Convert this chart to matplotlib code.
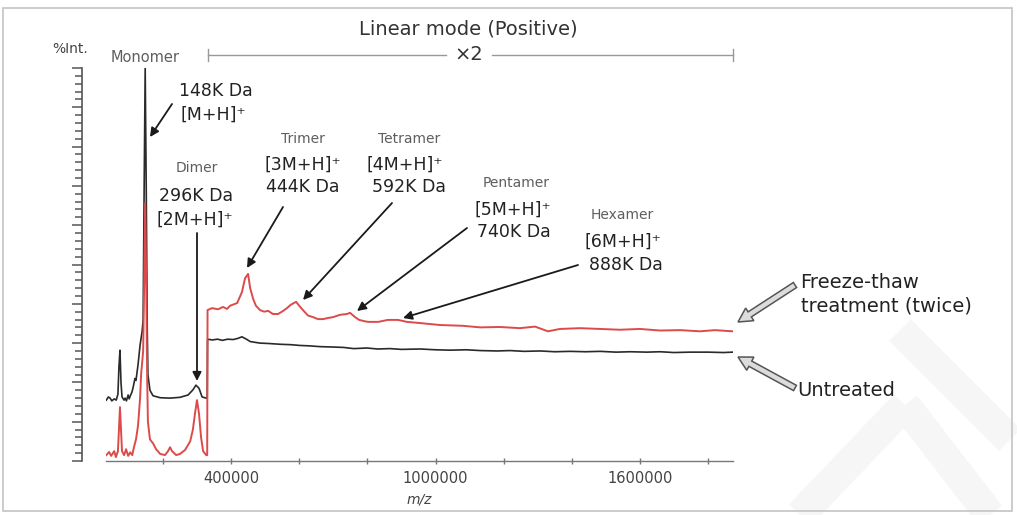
import matplotlib
matplotlib.use("Agg")
import matplotlib.pyplot as plt
from matplotlib.patches import FancyArrow, Rectangle
import numpy as np

plt.rcParams['font.family'] = ['DejaVu Sans']

# ---------------- data (m/z, %Int) ----------------
mz_untreated = [34000, 40000, 45000, 50000, 57000, 63000, 68000, 71000, 74000, 77000,
                80000, 86000, 89000, 93000, 98000, 101000, 104000, 109000, 112000, 118000,
                121000, 124000, 127000, 133000, 139000, 142000, 145000, 148000, 151000, 154000,
                156000, 162000, 171000, 192000, 221000, 250000, 274000, 288000, 297000, 306000,
                315000, 327000, 330000, 331000, 345000, 360000, 375000, 390000, 406000, 420000,
                432000, 445000, 456000, 470000, 485000, 510000, 544000, 575000, 602000, 630000,
                661000, 699000, 730000, 760000, 799000, 830000, 866000, 900000, 955000, 1000000,
                1043000, 1090000, 1131000, 1180000, 1219000, 1260000, 1307000, 1350000, 1395000, 1440000,
                1483000, 1530000, 1571000, 1620000, 1659000, 1700000, 1747000, 1800000, 1845000, 1872000]
int_untreated = [15.5, 16.3, 16.0, 15.3, 15.8, 15.5, 17.0, 24.0, 28.2, 20.0,
                 16.3, 15.5, 16.0, 15.3, 16.8, 15.8, 16.5, 17.5, 18.5, 21.0,
                 20.5, 22.5, 24.5, 29.5, 33.0, 36.0, 70.0, 100.0, 70.0, 34.0,
                 22.0, 18.0, 16.6, 16.1, 16.0, 16.2, 16.8, 18.1, 19.3, 18.5,
                 16.3, 16.0, 16.0, 31.0, 30.8, 31.0, 30.7, 31.0, 30.9, 31.2,
                 31.6, 31.0, 30.4, 30.2, 30.0, 29.9, 29.7, 29.6, 29.4, 29.3,
                 29.1, 29.0, 28.9, 28.6, 28.75, 28.5, 28.6, 28.4, 28.5, 28.3,
                 28.2, 28.3, 28.1, 28.0, 28.1, 27.9, 28.0, 27.8, 27.9, 27.8,
                 27.9, 27.7, 27.8, 27.7, 27.8, 27.6, 27.7, 27.7, 27.6, 27.7]

mz_freeze = [34000, 42000, 48000, 57000, 62000, 68000, 71000, 74000, 77000, 80000,
             86000, 92000, 98000, 104000, 110000, 115000, 121000, 127000, 133000, 136000,
             139000, 142000, 145000, 148000, 151000, 154000, 156000, 162000, 171000, 180000,
             192000, 206000, 215000, 221000, 227000, 239000, 250000, 265000, 280000, 288000,
             294000, 300000, 306000, 312000, 318000, 327000, 330000, 331000, 344000, 362000,
             376000, 388000, 397000, 418000, 432000, 441000, 450000, 456000, 465000, 473000,
             485000, 497000, 509000, 523000, 538000, 553000, 564000, 576000, 591000, 600000,
             611000, 626000, 641000, 655000, 670000, 685000, 699000, 720000, 740000, 749000,
             764000, 776000, 790000, 802000, 832000, 860000, 890000, 916000, 955000, 1013000,
             1081000, 1131000, 1189000, 1248000, 1292000, 1330000, 1365000, 1424000, 1483000, 1541000,
             1600000, 1659000, 1718000, 1776000, 1820000, 1872000]
int_freeze = [1.5, 2.3, 1.3, 2.5, 1.0, 2.5, 8.0, 13.7, 8.0, 2.5,
              1.5, 3.0, 1.3, 2.2, 1.5, 3.5, 5.5, 9.0, 16.0, 22.0,
              24.9, 28.0, 45.0, 65.6, 45.0, 20.0, 10.0, 5.5, 4.5, 3.0,
              1.8, 1.5, 2.5, 3.5, 2.5, 1.5, 1.8, 2.8, 5.0, 8.0,
              12.0, 15.5, 12.0, 6.0, 2.5, 1.5, 1.5, 38.4, 38.9, 38.6,
              39.2, 38.7, 39.5, 40.2, 43.0, 46.5, 47.6, 44.0, 41.2, 39.5,
              38.4, 38.0, 38.2, 37.4, 37.4, 38.2, 38.9, 39.8, 40.5, 39.5,
              38.4, 37.0, 36.6, 36.1, 36.1, 36.4, 36.6, 37.2, 37.4, 37.7,
              36.6, 35.9, 35.6, 35.4, 35.4, 35.9, 35.9, 35.4, 35.1, 34.6,
              34.4, 34.0, 34.1, 33.8, 34.2, 33.0, 33.6, 33.8, 33.6, 33.4,
              33.6, 33.2, 33.3, 33.0, 33.3, 33.0]

xtick_values = [200000, 400000, 600000, 800000, 1000000, 1200000, 1400000, 1600000, 1800000]
xtick_labels = ['', '400000', '', '', '1000000', '', '', '1600000', '']

# ---------------- figure ----------------
W, H = 1017, 515
fig = plt.figure(figsize=(W / 100, H / 100), dpi=100)
fig.patch.set_facecolor('white')

def fx(px):
    return px / W

def fy(py):
    return 1 - py / H

# main axes: x 106..733 px, y 68..461 px
ax = fig.add_axes([fx(106), fy(461), fx(733) - fx(106), fy(68) - fy(461)], zorder=2)
ax.set_facecolor('none')
ax.plot(mz_untreated, int_untreated, color='#2a2a2a', lw=1.2, zorder=3)
ax.plot(mz_freeze, int_freeze, color='#dd4a4a', lw=1.4, zorder=4)
ax.set_xlim(33000, 1873000)
ax.set_ylim(0, 100)

for s in ['top', 'right']:
    ax.spines[s].set_visible(False)
ax.spines['left'].set_position(('outward', 17))
ax.spines['left'].set_color('#555555')
ax.spines['left'].set_linewidth(1.2)
ax.spines['bottom'].set_color('#777777')
ax.spines['bottom'].set_linewidth(1.0)

ax.set_yticks(np.arange(0, 101, 10))
ax.set_yticks(np.arange(0, 101, 2), minor=True)
ax.set_yticklabels([])
ax.tick_params(axis='y', which='major', length=7, width=1.1, color='#555555', direction='out')
ax.tick_params(axis='y', which='minor', length=5, width=1.1, color='#555555', direction='out')

ax.set_xticks(xtick_values)
ax.set_xticklabels(xtick_labels)
ax.tick_params(axis='x', which='major', length=4, width=1, color='#777777', direction='inout',
               pad=5, labelsize=10.5, labelcolor='#444444')
ax.set_xlabel('m/z', style='italic', fontsize=10, color='#444444', labelpad=5)

# ---------------- overlay in image pixel coordinates ----------------
bg = fig.add_axes([0, 0, 1, 1], zorder=0)
bg.set_xlim(0, W)
bg.set_ylim(H, 0)
bg.axis('off')
# faint watermark
for (x0, y0, x1, y1) in [(900, 330, 1010, 440), (800, 515, 905, 405), (905, 405, 990, 515)]:
    bg.plot([x0, x1], [y0, y1], color='#f6f6f6', lw=22, solid_capstyle='butt')

ov = fig.add_axes([0, 0, 1, 1], zorder=5)
ov.set_xlim(0, W)
ov.set_ylim(H, 0)
ov.axis('off')
ov.patch.set_alpha(0)

# frame
ov.add_patch(Rectangle((3, 8), 1009, 503, fill=False, ec='#c4c4c4', lw=1.2))

# header
ov.text(468, 29, 'Linear mode (Positive)', ha='center', va='center', fontsize=14, color='#333333')
ov.text(469, 55, '×2', ha='center', va='center', fontsize=14, color='#333333')
ov.plot([208, 446], [55, 55], color='#999999', lw=1)
ov.plot([492, 733], [55, 55], color='#999999', lw=1)
ov.plot([208, 208], [49, 61], color='#999999', lw=1)
ov.plot([733, 733], [49, 61], color='#999999', lw=1)

ov.text(70, 49, '%Int.', ha='center', va='center', fontsize=10, color='#444444')

gray = '#5e5e5e'
dark = '#222222'
ov.text(145, 58, 'Monomer', ha='center', va='center', fontsize=10.5, color=gray)
ov.text(179, 91, '148K Da', ha='left', va='center', fontsize=12.5, color=dark)
ov.text(180, 115, '[M+H]⁺', ha='left', va='center', fontsize=12.5, color=dark)

ov.text(197, 168, 'Dimer', ha='center', va='center', fontsize=10, color=gray)
ov.text(196, 196, '296K Da', ha='center', va='center', fontsize=12.5, color=dark)
ov.text(195, 220, '[2M+H]⁺', ha='center', va='center', fontsize=12.5, color=dark)

ov.text(303, 139, 'Trimer', ha='center', va='center', fontsize=10, color=gray)
ov.text(303, 165, '[3M+H]⁺', ha='center', va='center', fontsize=12.5, color=dark)
ov.text(303, 187, '444K Da', ha='center', va='center', fontsize=12.5, color=dark)

ov.text(409, 139, 'Tetramer', ha='center', va='center', fontsize=10, color=gray)
ov.text(405, 165, '[4M+H]⁺', ha='center', va='center', fontsize=12.5, color=dark)
ov.text(409, 187, '592K Da', ha='center', va='center', fontsize=12.5, color=dark)

ov.text(516, 183, 'Pentamer', ha='center', va='center', fontsize=10, color=gray)
ov.text(513, 210, '[5M+H]⁺', ha='center', va='center', fontsize=12.5, color=dark)
ov.text(514, 232, '740K Da', ha='center', va='center', fontsize=12.5, color=dark)

ov.text(622, 215, 'Hexamer', ha='center', va='center', fontsize=10, color=gray)
ov.text(623, 242, '[6M+H]⁺', ha='center', va='center', fontsize=12.5, color=dark)
ov.text(626, 265, '888K Da', ha='center', va='center', fontsize=12.5, color=dark)

ov.text(800, 283, 'Freeze-thaw', ha='left', va='center', fontsize=14, color=dark)
ov.text(801, 306, 'treatment (twice)', ha='left', va='center', fontsize=14, color=dark)
ov.text(797, 390, 'Untreated', ha='left', va='center', fontsize=14, color=dark)

# black annotation arrows (tail -> tip)
arrows = [((172, 104), (150, 137)),
          ((197, 233), (197, 381)),
          ((283, 207), (247, 268)),
          ((392, 203), (303, 300)),
          ((467, 228), (357, 311)),
          ((578, 265), (403, 318))]
for tail, tip in arrows:
    ov.annotate('', xy=tip, xytext=tail,
                arrowprops=dict(arrowstyle='-|>', color='#1a1a1a', lw=1.3,
                                mutation_scale=13, shrinkA=0, shrinkB=0))

# grey block arrows
for (tx, ty), (hx, hy) in [((795, 285), (738, 322)), ((795, 388), (738, 357))]:
    ov.add_patch(FancyArrow(tx, ty, hx - tx, hy - ty, width=6, head_width=15, head_length=14,
                            length_includes_head=True, fc='#dcdcdc', ec='#555555', lw=1.1))

fig.savefig('out.png', dpi=100)
